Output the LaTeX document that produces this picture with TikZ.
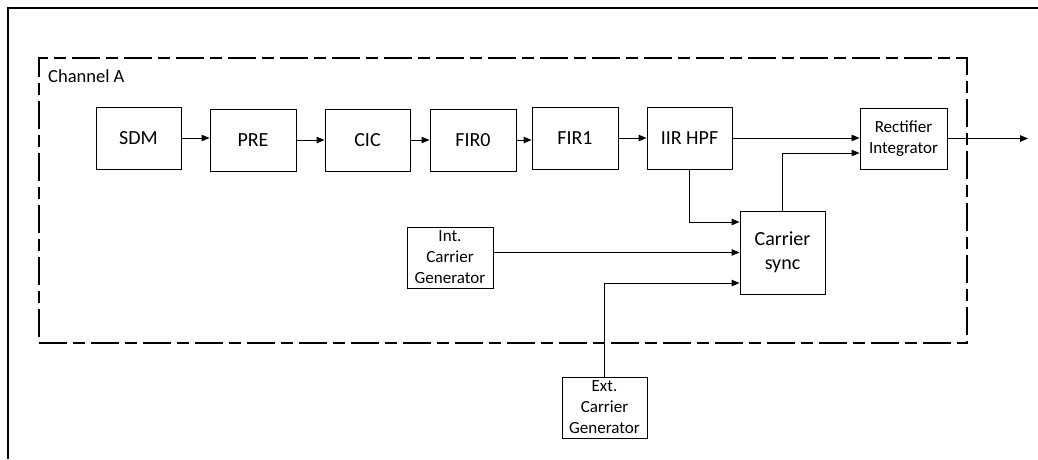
\documentclass[tikz,border=0pt]{standalone}
\usepackage{fontspec}
\setmainfont{Carlito}
\usetikzlibrary{arrows.meta}
\begin{document}
\begin{tikzpicture}[x=1pt,y=-1pt,
  blk/.style={draw,line width=1pt,inner sep=0pt,align=center,
    font=\fontsize{20}{24}\selectfont},
  smallblk/.style={blk,font=\fontsize{17}{21}\selectfont},
  arr/.style={line width=1pt,-{Triangle[length=8pt,width=6.5pt]}},
  wire/.style={line width=1pt},
  chanbox/.style={draw,line width=1.3pt,dash pattern=on 28pt off 6pt on 12pt off 6pt,inner sep=0pt}]
\useasboundingbox (0,0) rectangle (1038,459);

% outer frame (only top and left edges fall inside the page)
\draw[line width=2pt] (8,459) -- (8,8) -- (1038,8);

% channel boundary
\node[chanbox,minimum width=928pt,minimum height=285pt] (chA) at (503,200.5) {};
\node[anchor=base west,inner sep=0pt,font=\fontsize{18.5}{22}\selectfont] (chAlbl) at (48,82) {Channel A};

% processing chain
\node[blk,minimum width=85pt,minimum height=62pt] (sdm) at (138.5,138) {SDM};
\node[blk,minimum width=86pt,minimum height=62pt] (pre) at (253,140) {PRE};
\node[blk,minimum width=85pt,minimum height=62pt] (cic) at (367.5,140) {CIC};
\node[blk,minimum width=86pt,minimum height=62pt] (fir0) at (473,140) {FIR0};
\node[blk,minimum width=86pt,minimum height=62pt] (fir1) at (575,138) {FIR1};
\node[blk,minimum width=85pt,minimum height=62pt] (iir) at (689.5,138) {IIR HPF};
\node[smallblk,minimum width=87pt,minimum height=61pt] (rect) at (903.5,138.5) {Rectifier\\Integrator};

% carrier path
\node[blk,minimum width=85pt,minimum height=83pt] (cs) at (782.5,252.5) {Carrier\\sync};
\node[smallblk,minimum width=86pt,minimum height=61pt] (intg) at (450,257.5) {Int.\\Carrier\\Generator};
\node[smallblk,minimum width=85pt,minimum height=61pt] (extg) at (604.5,407.5) {Ext.\\Carrier\\Generator};

\coordinate (out) at (1028,138.5);

% connectors
\draw[arr] (sdm.east) -- (sdm.east -| pre.west);
\draw[arr] (pre.east) -- (pre.east -| cic.west);
\draw[arr] (cic.east) -- (cic.east -| fir0.west);
\draw[arr] (fir0.east) -- (fir0.east -| fir1.west);
\draw[arr] (fir1.east) -- (fir1.east -| iir.west);
\draw[arr] (iir.east) -- (iir.east -| rect.west);
\draw[arr] (cs.north) |- ([yshift=-14.5pt]rect.west);
\draw[arr] (rect.east) -- (out);
\draw[arr] (iir.south) |- ([yshift=30.5pt]cs.west);
\draw[arr] (intg.east |- cs.west) -- (cs.west);
\draw[arr] (extg.north) |- ([yshift=-30.5pt]cs.west);
\end{tikzpicture}
\end{document}
